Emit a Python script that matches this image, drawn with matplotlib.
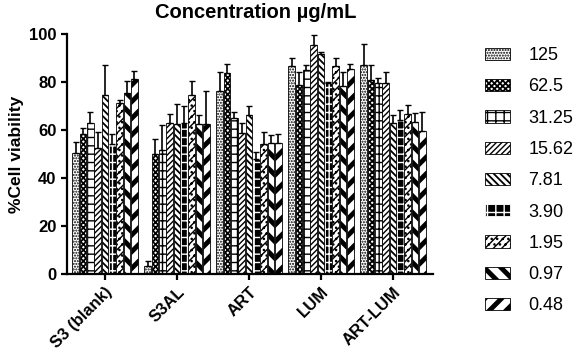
import matplotlib
matplotlib.use("Agg")
import matplotlib.pyplot as plt
import numpy as np
from matplotlib.patches import Patch

categories = ["S3 (blank)", "S3AL", "ART", "LUM", "ART-LUM"]
concentrations = ["125", "62.5", "31.25", "15.62", "7.81", "3.90", "1.95", "0.97", "0.48"]

# rows: concentration, columns: category
means = {
    "125":   [50.5, 3.3, 76.2, 86.7, 87.0],
    "62.5":  [58.3, 49.9, 83.6, 78.8, 80.8],
    "31.25": [63.1, 51.7, 65.1, 85.0, 79.4],
    "15.62": [52.6, 62.8, 58.6, 95.4, 79.6],
    "7.81":  [74.6, 62.4, 66.3, 91.5, 62.8],
    "3.90":  [54.0, 63.1, 47.8, 79.7, 64.2],
    "1.95":  [71.1, 74.6, 54.0, 86.7, 66.7],
    "0.97":  [75.3, 62.4, 54.7, 78.3, 63.5],
    "0.48":  [81.1, 62.4, 54.7, 85.3, 59.5],
}
errors = {
    "125":   [4.6, 2.0, 8.1, 3.2, 8.8],
    "62.5":  [2.4, 6.4, 3.8, 5.2, 6.3],
    "31.25": [4.4, 10.5, 2.5, 2.1, 2.1],
    "15.62": [6.6, 3.7, 4.2, 4.2, 4.4],
    "7.81":  [12.6, 8.6, 3.8, 1.0, 3.5],
    "3.90":  [4.2, 6.8, 2.9, 0.4, 4.1],
    "1.95":  [1.4, 5.7, 5.3, 3.2, 3.7],
    "0.97":  [5.0, 3.9, 3.2, 5.7, 3.7],
    "0.48":  [3.6, 14.0, 3.5, 2.1, 8.0],
}

# style per concentration: (facecolor, edgecolor, hatch, hatch linewidth)
styles = {
    "125":   ("white", "black", "......", 1.0),
    "62.5":  ("white", "black", "xxxxxx", 1.3),
    "31.25": ("white", "black", "++", 1.0),
    "15.62": ("white", "black", "//////", 1.0),
    "7.81":  ("white", "black", "\\\\\\\\\\", 1.3),
    "3.90":  ("black", "white", "++", 1.0),
    "1.95":  ("white", "black", "////...", 1.0),
    "0.97":  ("white", "black", "\\\\", 3.5),
    "0.48":  ("white", "black", "//", 3.5),
}

plt.rcParams['font.family'] = ['Liberation Sans', 'DejaVu Sans']

fig = plt.figure(figsize=(5.75, 3.6), dpi=100)
ax = fig.add_axes([67/575, 1-274/360, (433-67)/575, (274-34)/360])


def set_hlw(p, lw):
    if hasattr(p, "set_hatch_linewidth"):
        p.set_hatch_linewidth(lw)
    else:
        p._hatch_linewidth = lw


x = np.arange(len(categories))
step = 0.102
bw = 0.09
n = len(concentrations)
handles = []
for i, c in enumerate(concentrations):
    fc, ec, h, hlw = styles[c]
    pos = x + (i - (n-1)/2) * step
    bars = ax.bar(pos, means[c], width=bw, color=fc, edgecolor=ec, hatch=h, linewidth=0.6, zorder=2)
    for b in bars:
        set_hlw(b, hlw)
    handles.append(Patch(facecolor=fc, edgecolor=ec, hatch=h, linewidth=0.6, label=c))
    ax.errorbar(pos, means[c], yerr=[np.zeros(len(categories)), errors[c]], fmt='none',
                ecolor='black', elinewidth=1.2, capsize=2, capthick=1.0, zorder=3, clip_on=False)

ax.set_xlim(-0.528, 4.556)
ax.set_ylim(0, 100)
ax.set_yticks([0, 20, 40, 60, 80, 100])
ax.set_xticks(x)
ax.set_xticklabels(categories, rotation=45, ha='right', rotation_mode='anchor',
                   fontsize=12, fontweight='bold')
for lbl in ax.get_yticklabels():
    lbl.set_fontweight('bold')
    lbl.set_fontsize(12)
ax.spines['top'].set_visible(False)
ax.spines['right'].set_visible(False)
ax.spines['left'].set_linewidth(1.6)
ax.spines['bottom'].set_linewidth(1.6)
ax.tick_params(axis='both', width=1.6, length=4, direction='out')
ax.set_ylabel("%Cell viability", fontsize=12.5, fontweight='bold', labelpad=4)

fig.text(256/575, 1-12/360, "Concentration µg/mL", ha='center', va='center',
         fontsize=14.5, fontweight='bold')

leg = fig.legend(handles=handles, loc='upper left', bbox_to_anchor=(478/575, 1-40/360),
                 frameon=False, fontsize=13, handlelength=1.39, handleheight=0.67,
                 handletextpad=1.0, labelspacing=0.79, borderaxespad=0)
for p, c in zip(leg.get_patches(), concentrations):
    set_hlw(p, styles[c][3])

fig.savefig("out.png", dpi=100)
